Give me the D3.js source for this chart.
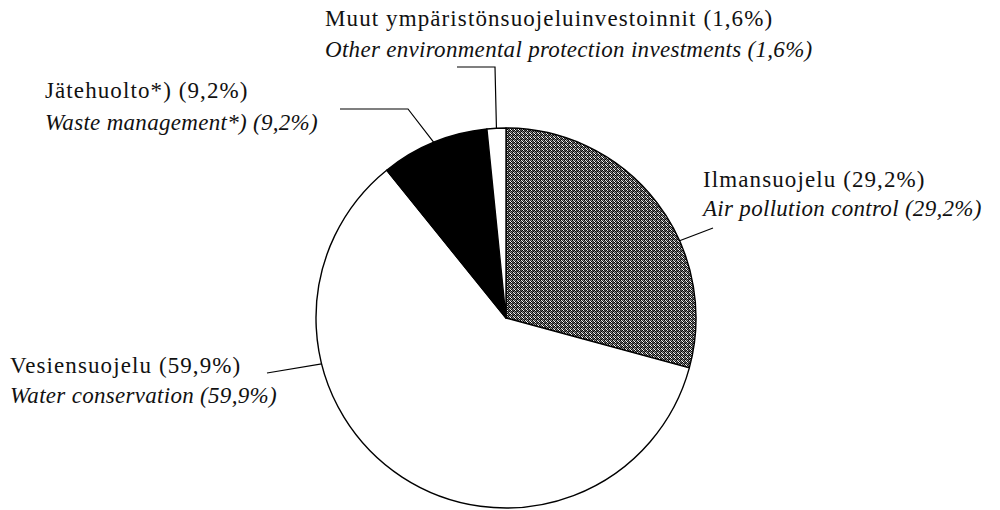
<!DOCTYPE html>
<html>
<head>
<meta charset="utf-8">
<script src="https://cdn.jsdelivr.net/npm/d3@7"></script>
<style>
  html, body { margin: 0; padding: 0; background: #fff; }
  svg { display: block; }
  text { font-family: "Liberation Serif", "DejaVu Serif", serif; font-size: 23px; fill: #111; letter-spacing: 1.1px; }
  .en { font-style: italic; letter-spacing: 0.3px; }
</style>
</head>
<body>
<svg id="chart" width="1000" height="510"></svg>
<script>
// ─── Data ─────────────────────────────────────────────────────────────────────

const KEYS      = ["air", "water", "waste", "other"];
const LABELS_FI = ["Ilmansuojelu (29,2%)", "Vesiensuojelu (59,9%)", "Jätehuolto*) (9,2%)",
                   "Muut ympäristönsuojeluinvestoinnit (1,6%)"];
const LABELS_EN = ["Air pollution control (29,2%)", "Water conservation (59,9%)",
                   "Waste management*) (9,2%)", "Other environmental protection investments (1,6%)"];
const VALUES    = [29.2, 59.9, 9.2, 1.6];

// ─── Layout ───────────────────────────────────────────────────────────────────

const W = 1000, H = 510;
const CX = 506, CY = 318, R = 190;

const FILLS = { air: "url(#dither)", water: "#fff", waste: "#000", other: "#fff" };

// label text position, leader start, optional elbow, angle (deg from top) where it meets the rim
const LABEL_POS = {
  air:   { x: 703, y: 187, dy: 29, from: [713, 228], elbow: null,       deg: 66 },
  water: { x: 10,  y: 373, dy: 30, from: [267, 373], elbow: null,       deg: 256 },
  waste: { x: 45,  y: 98,  dy: 32, from: [340, 109], elbow: [408, 109], deg: null },
  other: { x: 325, y: 26,  dy: 31, from: [457, 67],  elbow: [495, 67],  deg: null },
};

// ─── Draw ─────────────────────────────────────────────────────────────────────

const svg = d3.select("#chart").attr("viewBox", `0 0 ${W} ${H}`);

// dithered grey like the printed screen
const DITHER = [
  "#000", "#eee", "#222", "#555",
  "#888", "#111", "#666", "#000",
  "#333", "#999", "#000", "#ddd",
  "#fff", "#000", "#777", "#333",
];
const pat = svg.append("defs").append("pattern")
  .attr("id", "dither").attr("patternUnits", "userSpaceOnUse")
  .attr("width", 4).attr("height", 4);
DITHER.forEach((c, i) => {
  pat.append("rect").attr("x", i % 4).attr("y", Math.floor(i / 4))
    .attr("width", 1).attr("height", 1).attr("fill", c)
    .attr("shape-rendering", "crispEdges");
});

const pie = d3.pie().sort(null).value(d => d.value);
const arcs = pie(KEYS.map((k, i) => ({ key: k, value: VALUES[i] })));
const arc = d3.arc().innerRadius(0).outerRadius(R);

const g = svg.append("g").attr("transform", `translate(${CX},${CY})`);
g.selectAll("path")
  .data(arcs)
  .join("path")
  .attr("d", arc)
  .attr("fill", d => FILLS[d.data.key])
  .attr("stroke", "#000")
  .attr("stroke-width", 1.4)
  .attr("stroke-linejoin", "round");

// rim point for an angle in degrees (clockwise from 12 o'clock)
function rim(deg) {
  const a = deg * Math.PI / 180;
  return [CX + R * Math.sin(a), CY - R * Math.cos(a)];
}

arcs.forEach((d, i) => {
  const p = LABEL_POS[d.data.key];
  const mid = (d.startAngle + d.endAngle) / 2 * 180 / Math.PI;
  const end = rim(p.deg != null ? p.deg : mid);
  const pts = [p.from];
  if (p.elbow) pts.push(p.elbow);
  pts.push(end);

  svg.append("path")
    .attr("d", d3.line()(pts))
    .attr("fill", "none")
    .attr("stroke", "#000")
    .attr("stroke-width", 1.2);

  svg.append("text").attr("x", p.x).attr("y", p.y).text(LABELS_FI[i]);
  svg.append("text").attr("class", "en").attr("x", p.x).attr("y", p.y + p.dy).text(LABELS_EN[i]);
});
</script>
</body>
</html>
